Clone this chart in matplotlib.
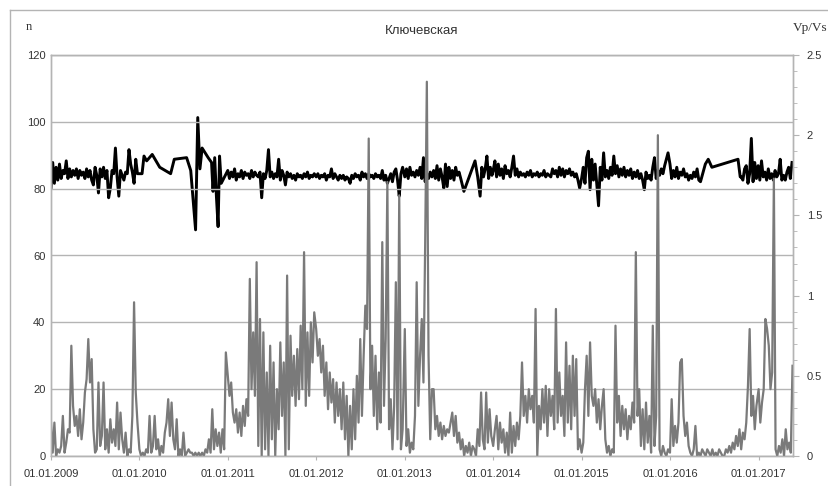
import pandas as pd
import matplotlib
matplotlib.use('Agg')
import matplotlib.pyplot as plt
import matplotlib.dates as mdates
from matplotlib.ticker import MultipleLocator, FuncFormatter
from matplotlib.lines import Line2D

plt.rcParams['font.family'] = ['Liberation Sans', 'DejaVu Sans']

# n - weekly values, each year starts on 1 January
n_years = [2009, 2010, 2011, 2012, 2013, 2014, 2015, 2016, 2017]
n_2009 = [10, 1, 10, 0, 2, 1, 3, 12, 1, 4, 8, 7, 33,
          15, 9, 12, 6, 14, 5, 10, 19, 23, 35, 22, 29, 8,
          1, 2, 22, 3, 6, 22, 2, 8, 1, 11, 4, 8, 3, 16,
          2, 13, 5, 1, 7, 0, 2, 1, 12, 46, 19, 10]
n_2010 = [2, 0, 1, 0, 2, 1, 12, 1, 3, 12, 2, 5, 0, 3, 1, 7, 10, 17, 6, 16, 5, 2, 11, 0, 2, 0, 7, 0, 1, 2, 1, 1, 0, 1,
          0, 1, 0, 1, 0, 2, 1, 5, 1, 14, 2, 8, 3, 7, 1, 8, 2, 31]
n_2011 = [24, 18, 22, 13, 10, 14, 7, 13, 6, 15, 9, 17, 12,
          53, 20, 37, 18, 58, 3, 41, 0, 37, 2, 25, 0, 33,
          5, 28, 0, 20, 8, 34, 12, 28, 0, 54, 2, 36, 18,
          30, 15, 32, 17, 39, 20, 61, 15, 37, 18, 40, 28, 43]
n_2012 = [38, 30, 35, 25, 33, 18, 28, 14, 25, 16, 23, 10, 22,
          12, 20, 8, 22, 5, 18, 0, 15, 2, 20, 5, 24, 10,
          35, 12, 30, 45, 38, 95, 20, 33, 12, 30, 8, 25, 10,
          64, 15, 35, 82, 8, 17, 2, 15, 52, 5, 78, 2, 8]
n_2013 = [38, 3, 8, 1, 4, 2, 12, 52, 15, 30, 41, 22, 63,
          112, 30, 5, 20, 20, 8, 12, 6, 10, 5, 9, 6, 8,
          7, 10, 13, 6, 12, 4, 7, 2, 5, 0, 3, 1, 4,
          0, 3, 2, 0, 8, 3, 19, 5, 2, 19, 4, 14, 6]
n_2014 = [3, 8, 12, 2, 10, 4, 8, 1, 7, 0, 13, 1, 9,
          3, 10, 5, 12, 28, 12, 18, 10, 20, 14, 18, 10, 44,
          0, 15, 8, 20, 10, 21, 6, 20, 12, 18, 8, 44, 10,
          25, 12, 18, 6, 34, 10, 27, 8, 30, 12, 29, 2, 5]
n_2015 = [1, 4, 20, 30, 12, 34, 18, 15, 20, 10, 17, 8, 15,
          20, 5, 1, 3, 0, 2, 1, 39, 10, 18, 6, 15, 8,
          14, 5, 12, 8, 16, 10, 61, 12, 20, 3, 14, 2, 16,
          4, 12, 1, 39, 3, 12, 96, 2, 0, 3, 1, 0, 2]
n_2016 = [1, 17, 3, 9, 4, 10, 28, 29, 12, 6, 10, 3, 1,
          0, 2, 9, 0, 1, 0, 2, 1, 0, 2, 1, 0, 2,
          0, 1, 0, 2, 1, 0, 0, 2, 1, 3, 1, 4, 2,
          6, 3, 8, 2, 7, 5, 10, 21, 38, 12, 18, 8, 15]
n_2017 = [20, 10, 16, 20, 41, 38, 33, 20, 25, 83, 2, 0, 3, 1, 5, 0, 8, 2, 4, 1, 27]
n_lists = [n_2009, n_2010, n_2011, n_2012, n_2013, n_2014, n_2015, n_2016, n_2017]

# Vp/Vs - weekly segments (start date, values) plus sparse points in the gaps
vps_2009 = [1.67, 1.83, 1.70, 1.80, 1.72, 1.82, 1.73, 1.78, 1.76, 1.84, 1.73, 1.79, 1.74,
            1.78, 1.75, 1.79, 1.73, 1.78, 1.75, 1.77, 1.73, 1.79, 1.74, 1.78, 1.72, 1.69,
            1.80, 1.75, 1.64, 1.79, 1.74, 1.80, 1.73, 1.78, 1.61, 1.67, 1.78, 1.76, 1.92,
            1.74, 1.62, 1.78, 1.75, 1.72, 1.77, 1.76, 1.91, 1.82, 1.77, 1.70, 1.85, 1.76]
vps_2011 = [1.78, 1.73, 1.77, 1.74, 1.79, 1.72, 1.76, 1.74, 1.78, 1.73, 1.77, 1.75, 1.76,
            1.73, 1.78, 1.74, 1.77, 1.75, 1.74, 1.77, 1.61, 1.76, 1.73, 1.78, 1.91, 1.74,
            1.77, 1.73, 1.76, 1.74, 1.85, 1.72, 1.78, 1.75, 1.69, 1.77, 1.74, 1.76, 1.73,
            1.75, 1.72, 1.76, 1.74, 1.75, 1.73, 1.76, 1.74, 1.77, 1.73, 1.75, 1.74, 1.76]
vps_2012 = [1.74, 1.76, 1.73, 1.75, 1.74, 1.76, 1.72, 1.75, 1.74, 1.79, 1.73, 1.76, 1.74,
            1.72, 1.75, 1.73, 1.75, 1.72, 1.74, 1.73, 1.70, 1.75, 1.73, 1.76, 1.74, 1.75,
            1.72, 1.77, 1.74, 1.76, 1.73, 1.76, 1.74, 1.75, 1.73, 1.76, 1.74, 1.75, 1.73,
            1.78, 1.72, 1.75, 1.70, 1.73, 1.76, 1.71, 1.77, 1.79, 1.72, 1.62, 1.76, 1.80]
vps_2013a = [1.74, 1.79, 1.73, 1.80, 1.75, 1.77, 1.74, 1.78, 1.75, 1.80, 1.73, 1.86, 1.71,
             1.76, 1.73, 1.77, 1.74, 1.78, 1.73, 1.81, 1.72, 1.79, 1.74, 1.67, 1.82, 1.68,
             1.80, 1.73, 1.78, 1.72, 1.80, 1.75, 1.77, 1.73]
vps_2013b = [1.80, 1.74, 1.79, 1.87, 1.73, 1.80, 1.75]
vps_2014 = [1.78, 1.84, 1.74, 1.82, 1.75, 1.79, 1.73, 1.81, 1.76, 1.78, 1.74, 1.80, 1.87,
            1.75, 1.79, 1.74, 1.77, 1.75, 1.76, 1.74, 1.77, 1.75, 1.78, 1.74, 1.76, 1.75,
            1.77, 1.74, 1.76, 1.75, 1.78, 1.74, 1.76, 1.75, 1.74, 1.79, 1.76, 1.78, 1.74,
            1.80, 1.75, 1.79, 1.74, 1.78, 1.76, 1.79, 1.75, 1.77, 1.74, 1.76, 1.72, 1.67]
vps_2015 = [1.73, 1.80, 1.70, 1.86, 1.90, 1.66, 1.85, 1.72, 1.82, 1.69, 1.56, 1.80, 1.72,
            1.89, 1.74, 1.78, 1.73, 1.80, 1.75, 1.87, 1.76, 1.81, 1.74, 1.79, 1.75, 1.80,
            1.74, 1.78, 1.75, 1.79, 1.73, 1.77, 1.74, 1.78, 1.73, 1.76, 1.72, 1.66, 1.77,
            1.73, 1.75, 1.72, 1.80, 1.86, 1.73, 1.78, 1.75, 1.79, 1.76, 1.81, 1.85, 1.89]
vps_2016a = [1.82, 1.73, 1.78, 1.74, 1.80, 1.73, 1.77, 1.75, 1.79, 1.74, 1.76, 1.72, 1.75,
             1.73, 1.77, 1.74, 1.79, 1.72, 1.71]
vps_2016b = [1.74, 1.72, 1.79, 1.81, 1.70, 1.76, 1.98, 1.71, 1.83, 1.73, 1.81, 1.72, 1.84,
             1.74, 1.77, 1.72, 1.79, 1.73, 1.76, 1.72, 1.78, 1.74, 1.76, 1.85, 1.72, 1.75,
             1.72, 1.77, 1.80, 1.73, 1.83]
vps_starts = ['2009-01-01', '2011-01-01', '2012-01-01', '2013-01-01', '2013-11-15',
              '2014-01-01', '2015-01-01', '2016-01-01', '2016-10-21']
vps_lists = [vps_2009, vps_2011, vps_2012, vps_2013a, vps_2013b,
             vps_2014, vps_2015, vps_2016a, vps_2016b]

gap_dates = ['2010-01-12', '2010-01-20', '2010-01-31', '2010-02-23', '2010-03-26', '2010-05-10',
             '2010-05-25', '2010-07-15', '2010-08-01', '2010-08-21', '2010-08-30', '2010-09-08',
             '2010-09-17', '2010-10-12', '2010-10-26', '2010-11-01', '2010-11-08', '2010-11-15',
             '2010-11-22', '2010-11-28', '2010-12-05',
             '2013-09-02', '2013-10-18', '2013-10-29', '2013-11-08',
             '2016-05-26', '2016-06-07', '2016-06-22', '2016-10-08', '2016-10-17']
gap_vals = [1.76, 1.87, 1.84, 1.88, 1.80, 1.76, 1.85, 1.86, 1.78, 1.41, 2.11, 1.79,
            1.92, 1.86, 1.83, 1.65, 1.86, 1.62, 1.43, 1.87, 1.70,
            1.65, 1.84, 1.74, 1.62,
            1.82, 1.85, 1.80, 1.85, 1.74]


def weekly(start, vals):
    return pd.Series(vals, index=pd.date_range(start, periods=len(vals), freq='7D'))


n_ser = pd.concat([weekly(f'{y}-01-01', v) for y, v in zip(n_years, n_lists)])
vps_ser = pd.concat([weekly(s, v) for s, v in zip(vps_starts, vps_lists)]
                    + [pd.Series(gap_vals, index=pd.to_datetime(gap_dates))]).sort_index()

grid_c = '#b4b4b4'
txt_c = '#333333'

fig = plt.figure(figsize=(8.29, 4.86), dpi=100)
ax = fig.add_axes([51 / 829, 30 / 486, 742 / 829, 401 / 486])
ax2 = ax.twinx()
ax.set_zorder(ax2.get_zorder() + 1)
ax.patch.set_visible(False)

ax2.plot(vps_ser.index, vps_ser.values, color='black', lw=2.1)
ax.plot(n_ser.index, n_ser.values, color='#7a7a7a', lw=1.6)

ax.set_xlim(pd.Timestamp('2009-01-01'), pd.Timestamp('2017-05-23'))
ax.set_ylim(0, 120)
ax2.set_ylim(0, 2.5)

ax.set_yticks(range(0, 121, 20))
ax.yaxis.grid(True, color=grid_c, lw=1)
ax.tick_params(axis='y', length=0, pad=4, labelsize=8, labelcolor=txt_c)

ax.xaxis.set_major_locator(mdates.YearLocator())
ax.xaxis.set_major_formatter(mdates.DateFormatter('%d.%m.%Y'))
ax.tick_params(axis='x', length=3, color=grid_c, pad=6, labelsize=8, labelcolor=txt_c)

ax2.yaxis.set_major_locator(MultipleLocator(0.5))
ax2.yaxis.set_minor_locator(MultipleLocator(0.1))
ax2.yaxis.set_major_formatter(FuncFormatter(lambda v, p: f'{v:g}'))
ax2.tick_params(axis='y', which='major', length=4, color=grid_c, pad=6, labelsize=8, labelcolor=txt_c)
ax2.tick_params(axis='y', which='minor', length=3, color=grid_c)

for a in (ax, ax2):
    for sp in a.spines.values():
        sp.set_color(grid_c)
        sp.set_linewidth(1)

# outer chart frame
fig.add_artist(Line2D([10 / 829, 10 / 829], [0, 1 - 10 / 486], transform=fig.transFigure, color=grid_c, lw=1))
fig.add_artist(Line2D([10 / 829, 1], [1 - 10 / 486, 1 - 10 / 486], transform=fig.transFigure, color=grid_c, lw=1))

fig.text(422 / 829, 1 - 31 / 486, 'Ключевская', ha='center', va='center', fontsize=9.5, color=txt_c)
fig.text(29 / 829, 1 - 27 / 486, 'n', ha='center', va='center', fontsize=9,
         family=['Liberation Serif', 'DejaVu Serif'], color=txt_c)
fig.text(810 / 829, 1 - 28 / 486, 'Vp/Vs', ha='center', va='center', fontsize=9.5,
         family=['Liberation Serif', 'DejaVu Serif'], color=txt_c)

fig.savefig('out.png', dpi=100)
